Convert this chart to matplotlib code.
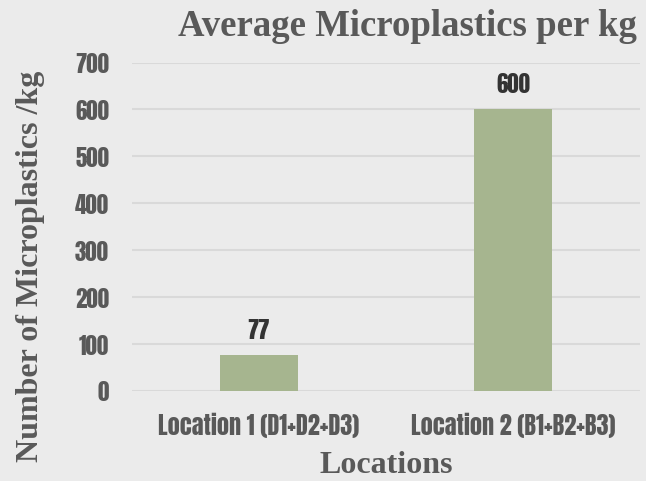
import numpy as np
import matplotlib
matplotlib.use("Agg")
import matplotlib.pyplot as plt

plt.rcParams["font.family"] = ["Liberation Serif", "DejaVu Serif"]

locations = ["Location 1 (D1+D2+D3)", "Location 2 (B1+B2+B3)"]
avg_per_kg = [77, 600]
y_ticks = [0, 100, 200, 300, 400, 500, 600, 700]

bg_colour = "#ebebeb"
bar_colour = "#a6b58f"
text_grey = "#595959"
narrow_kw = dict(family=["Anton", "DejaVu Sans"])

fig = plt.figure(figsize=(6.46, 4.815), dpi=100, facecolor=bg_colour)
ax = fig.add_axes([0.2043, 0.1871, 0.7864, 0.6819], facecolor=bg_colour)

x = np.arange(len(locations))
ax.bar(x, avg_per_kg, width=0.31, color=bar_colour, zorder=3)
for xi, v in zip(x, avg_per_kg):
    ax.annotate(str(v), (xi, v), xytext=(0, 18), textcoords="offset points",
                ha="center", va="center", fontsize=16.5, color="#333333",
                **narrow_kw)

ax.set_xlim(-0.5, 1.5)
ax.set_ylim(0, 700)
ax.set_yticks(y_ticks)
ax.set_yticklabels([str(t) for t in y_ticks], fontsize=16.5, color=text_grey,
                   **narrow_kw)
ax.set_xticks(x)
ax.set_xticklabels(locations, fontsize=17.5, color=text_grey, **narrow_kw)
ax.tick_params(length=0, pad=16.5)
ax.tick_params(axis="x", pad=15)
ax.yaxis.grid(True, color="#d9d9d9", linewidth=1.5, zorder=0)
for s in ax.spines.values():
    s.set_visible(False)

fig.text(0.631, 0.944, "Average Microplastics per kg", ha="center",
         va="center", fontsize=26.5, fontweight="bold", color=text_grey)
ax.set_xlabel("Locations", fontsize=23, fontweight="bold", color=text_grey,
              labelpad=10)
fig.text(0.047, 0.447, "Number of Microplastics /kg", rotation=90,
         ha="center", va="center", fontsize=23, fontweight="bold",
         color=text_grey)

fig.savefig("out.png", dpi=100, facecolor=bg_colour)
